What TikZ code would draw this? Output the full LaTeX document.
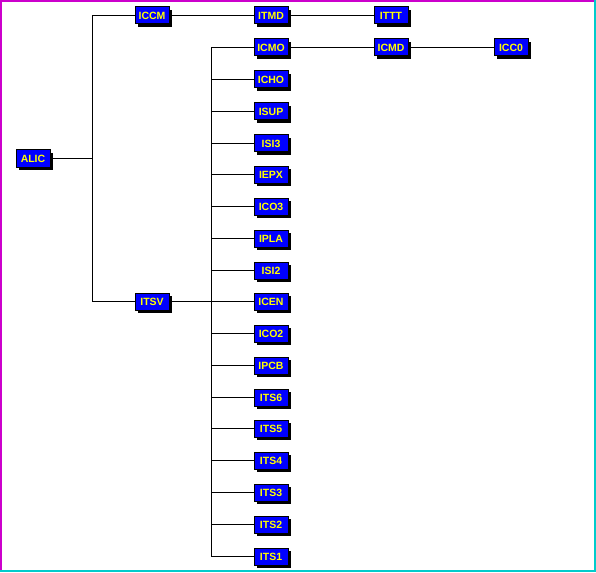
\documentclass[tikz,border=0pt]{standalone}
\usepackage{fontspec}
\setmainfont{Liberation Sans}
\definecolor{boxblue}{RGB}{0,0,255}
\definecolor{txtyellow}{RGB}{255,255,0}
\definecolor{bordmag}{RGB}{204,0,204}
\definecolor{bordcyan}{RGB}{0,204,204}
\begin{document}
\begin{tikzpicture}[x=1pt,y=-1pt,
  item/.style={draw=black,line width=1pt,fill=boxblue,text=txtyellow,
    font=\fontsize{10.5}{11}\selectfont\bfseries,minimum width=34pt,minimum height=17pt,
    inner sep=0pt,outer sep=0pt},
  shad/.style={fill=black,draw=none,minimum width=34pt,minimum height=17pt,inner sep=0pt},
  conn/.style={draw=black,line width=1pt}]
\useasboundingbox (0,0) rectangle (596,572);
\fill[white] (0,0) rectangle (596,572);
% borders
\fill[bordmag] (0,0) rectangle (2,572);
\fill[bordmag] (0,0) rectangle (596,2);
\fill[bordcyan] (594,0) rectangle (596,572);
\fill[bordcyan] (0,570) rectangle (596,572);
% shadows
\foreach \x/\y in {33/158.5,152/15.5,271/15.5,391/15.5,152/301.5,391/47.5,511/47.5} {
  \node[shad] at (\x+3,\y+3) {};
}
\foreach \y in {47.5,79.5,111.5,143.5,174.5,206.5,238.5,270.5,301.5,333.5,365.5,397.5,428.5,460.5,492.5,524.5,556.5} {
  \node[shad] at (274,\y+3) {};
}
% nodes
\node[item] (ALIC) at (33,158.5) {ALIC};
\node[item] (ICCM) at (152,15.5) {ICCM};
\node[item] (ITMD) at (271,15.5) {ITMD};
\node[item] (ITTT) at (391,15.5) {ITTT};
\node[item] (ITSV) at (152,301.5) {ITSV};
\node[item] (ICMD) at (391,47.5) {ICMD};
\node[item] (ICC0) at (511,47.5) {ICC0};
\foreach \n/\y in {ICMO/47.5,ICHO/79.5,ISUP/111.5,ISI3/143.5,IEPX/174.5,ICO3/206.5,IPLA/238.5,ISI2/270.5,ICEN/301.5,ICO2/333.5,IPCB/365.5,ITS6/397.5,ITS5/428.5,ITS4/460.5,ITS3/492.5,ITS2/524.5,ITS1/556.5} {
  \node[item] (\n) at (271,\y) {\n};
}
% connectors
\coordinate (b1) at (92.5,158.5);
\coordinate (b2) at (211.5,301.5);
\draw[conn] (ALIC.east) -- (b1);
\draw[conn] (b1) |- (ICCM.west);
\draw[conn] (b1) |- (ITSV.west);
\draw[conn] (ICCM.east) -- (ITMD.west);
\draw[conn] (ITMD.east) -- (ITTT.west);
\draw[conn] (ITSV.east) -- (ICEN.west);
\draw[conn] (ICMO.east) -- (ICMD.west);
\draw[conn] (ICMD.east) -- (ICC0.west);
\foreach \n in {ICMO,ICHO,ISUP,ISI3,IEPX,ICO3,IPLA,ISI2,ICO2,IPCB,ITS6,ITS5,ITS4,ITS3,ITS2,ITS1} {
  \draw[conn] (b2) |- (\n.west);
}
\end{tikzpicture}
\end{document}
